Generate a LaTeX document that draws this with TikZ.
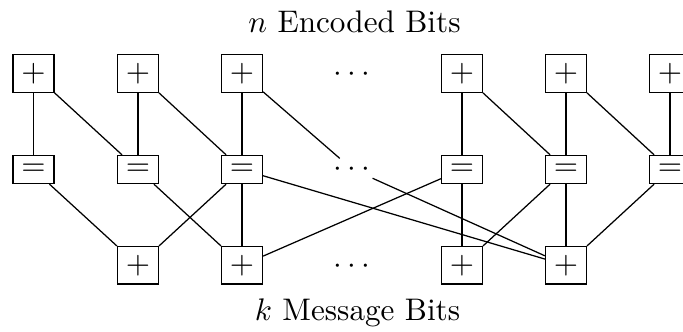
\documentclass[tikz,border=0pt]{standalone}
\begin{document}
\begin{tikzpicture}[x=0.3205pt,y=-0.3205pt,
  box/.style={draw, inner sep=2.67pt, minimum width=13.1pt},
  plusbox/.style={box, minimum height=11.9pt},
  eqbox/.style={box, minimum height=9pt},
  dotsnode/.style={inner sep=0pt, text height=5pt, text depth=0pt, minimum width=12.8pt, minimum height=6.4pt},
  title/.style={anchor=base, inner sep=0pt},
  edge/.style={draw}]
\useasboundingbox (0,0) rectangle (683,331);
% top row
\node[plusbox] (t1) at (33.5,73.5) {$+$};
\node[plusbox] (t2) at (138,73.5) {$+$};
\node[plusbox] (t3) at (242,73.5) {$+$};
\node[dotsnode] (td) at (352,73.2) {$\cdots$};
\node[plusbox] (t4) at (462,73.5) {$+$};
\node[plusbox] (t5) at (566,73.5) {$+$};
\node[plusbox] (t6) at (670,73.5) {$+$};
% middle row
\node[eqbox] (m1) at (33.5,169.5) {$=$};
\node[eqbox] (m2) at (138,169.5) {$=$};
\node[eqbox] (m3) at (242,169.5) {$=$};
\node[dotsnode] (md) at (352,169) {$\cdots$};
\node[eqbox] (m4) at (462,169.5) {$=$};
\node[eqbox] (m5) at (566,169.5) {$=$};
\node[eqbox] (m6) at (670,169.5) {$=$};
% bottom row
\node[plusbox] (b2) at (138,265.3) {$+$};
\node[plusbox] (b3) at (242,265.3) {$+$};
\node[dotsnode] (bd) at (352,265.3) {$\cdots$};
\node[plusbox] (b4) at (462,265.3) {$+$};
\node[plusbox] (b5) at (566,265.3) {$+$};
% titles
\node[title] (toptitle) at (354.5,32.3) {$n$ Encoded Bits};
\node[title] (bottitle) at (357.5,320) {$k$ Message Bits};
% edges top-middle
\draw[edge] (t1) -- (m1);
\draw[edge] (t1) -- (m2);
\draw[edge] (t2) -- (m2);
\draw[edge] (t2) -- (m3);
\draw[edge] (t3) -- (m3);
\draw[edge] (t3) -- (md);
\draw[edge] (t4) -- (m4);
\draw[edge] (t4) -- (m5);
\draw[edge] (t5) -- (m5);
\draw[edge] (t5) -- (m6);
\draw[edge] (t6) -- (m6);
% edges middle-bottom
\draw[edge] (m1) -- (b2);
\draw[edge] (m2) -- (b3);
\draw[edge] (m3) -- (b2);
\draw[edge] (m3) -- (b3);
\draw[edge] (m3) -- (b5);
\draw[edge] (md) -- (b5);
\draw[edge] (m4) -- (b3);
\draw[edge] (m4) -- (b4);
\draw[edge] (m5) -- (b4);
\draw[edge] (m5) -- (b5);
\draw[edge] (m6) -- (b5);
\end{tikzpicture}
\end{document}
